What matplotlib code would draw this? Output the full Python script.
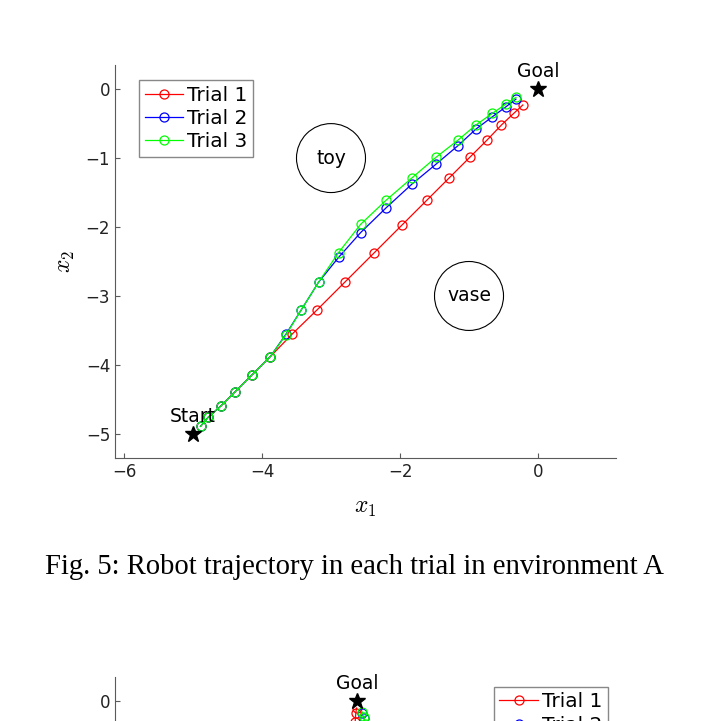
import matplotlib
matplotlib.use('Agg')
import matplotlib.pyplot as plt

# trajectory points (environment A)
red_x = [-4.89, -4.78, -4.59, -4.39, -4.15, -3.88, -3.56, -3.20, -2.80, -2.37, -1.97, -1.61, -1.29, -0.99, -0.74, -0.53, -0.35, -0.22]
red_y = [-4.89, -4.76, -4.59, -4.39, -4.15, -3.88, -3.55, -3.20, -2.80, -2.37, -1.97, -1.61, -1.29, -0.99, -0.74, -0.52, -0.35, -0.23]
blue_x = [-4.89, -4.78, -4.59, -4.39, -4.15, -3.88, -3.65, -3.43, -3.18, -2.89, -2.57, -2.20, -1.83, -1.48, -1.16, -0.90, -0.66, -0.47, -0.32]
blue_y = [-4.89, -4.76, -4.59, -4.39, -4.15, -3.88, -3.55, -3.20, -2.80, -2.44, -2.08, -1.72, -1.38, -1.09, -0.82, -0.58, -0.40, -0.26, -0.145]
green_x = [-4.89, -4.78, -4.59, -4.39, -4.15, -3.88, -3.65, -3.43, -3.18, -2.89, -2.57, -2.20, -1.83, -1.48, -1.16, -0.90, -0.66, -0.47, -0.32]
green_y = [-4.89, -4.76, -4.59, -4.39, -4.15, -3.88, -3.56, -3.20, -2.80, -2.37, -1.96, -1.61, -1.29, -0.99, -0.74, -0.52, -0.35, -0.22, -0.12]

start = (-5, -5)
goal = (0, 0)
obstacles = [(-3, -1, 'toy'), (-1, -3, 'vase')]
obstacle_r = 0.5

# second figure (only its top edge is visible)
b_red_x = [-0.01, -0.02, -0.03, -0.04]
b_red_y = [-0.10, -0.17, -0.30, -0.45]
b_blue_x = [0.07, 0.10, 0.12, 0.13]
b_blue_y = [-0.17, -0.25, -0.36, -0.50]
b_green_x = [0.07, 0.10, 0.11, 0.12]
b_green_y = [-0.155, -0.23, -0.33, -0.47]

plt.rcParams['font.family'] = 'DejaVu Sans'
plt.rcParams['mathtext.fontset'] = 'cm'

ax_col = '#5a5a5a'
tick_fs = 12
txt_fs = 13.5
leg_fs = 14.5


def style_axes(ax):
	ax.spines['top'].set_visible(False)
	ax.spines['right'].set_visible(False)
	for s in ['left', 'bottom']:
		ax.spines[s].set_color(ax_col)
		ax.spines[s].set_linewidth(0.8)
	ax.tick_params(direction='in', length=3.5, width=0.8, color=ax_col,
				labelsize=tick_fs, labelcolor='#222222')


def trials(ax, rx, ry, bx, by, gx, gy):
	kw = dict(marker='o', markersize=6.5, markerfacecolor='none', linewidth=0.9, markeredgewidth=0.9)
	ax.plot(rx, ry, color='#ff0000', label='Trial 1', **kw)
	ax.plot(bx, by, color='#0000ff', label='Trial 2', **kw)
	ax.plot(gx, gy, color='#00ff00', label='Trial 3', **kw)


def add_legend(ax, anchor):
	ax.legend(loc='upper left', bbox_to_anchor=anchor, borderaxespad=0,
			fontsize=leg_fs, handlelength=1.9, handletextpad=0.2, labelspacing=0.22,
			borderpad=0.28, fancybox=False, framealpha=1, edgecolor='#888888')


fig = plt.figure(figsize=(7.09, 7.21), dpi=100)

# ---------------- top figure
ax = fig.add_axes([115/709, 1-458/721, 501/709, 393/721])
trials(ax, red_x, red_y, blue_x, blue_y, green_x, green_y)
for (cx, cy, name) in obstacles:
	ax.add_patch(plt.Circle((cx, cy), obstacle_r, fill=False, color='black', linewidth=0.8))
	ax.text(cx, cy, name, ha='center', va='center', fontsize=txt_fs)
ax.plot(*start, marker='*', color='black', markersize=12, linestyle='none')
ax.plot(*goal, marker='*', color='black', markersize=12, linestyle='none')
ax.annotate('Start', start, xytext=(0, 6), textcoords='offset points', ha='center', va='bottom', fontsize=txt_fs)
ax.annotate('Goal', goal, xytext=(0, 6), textcoords='offset points', ha='center', va='bottom', fontsize=txt_fs)
ax.set_xlim(-6.13, 1.13)
ax.set_ylim(-5.35, 0.35)
ax.set_xticks([-6, -4, -2, 0])
ax.set_yticks([0, -1, -2, -3, -4, -5])
style_axes(ax)
ax.set_xlabel('$x_1$', fontsize=17, labelpad=10)
ax.set_ylabel('$x_2$', fontsize=17, labelpad=6)
add_legend(ax, (0.048, 0.962))

fig.text(354/709, 1-567/721, 'Fig. 5: Robot trajectory in each trial in environment A',
		family='Liberation Serif', fontsize=20.6, ha='center', va='center')

# ---------------- bottom figure (cut off by page)
ax2 = fig.add_axes([115/709, 1-1070/721, 501/709, 393/721])
trials(ax2, b_red_x, b_red_y, b_blue_x, b_blue_y, b_green_x, b_green_y)
ax2.plot(*goal, marker='*', color='black', markersize=12, linestyle='none')
ax2.annotate('Goal', goal, xytext=(0, 6), textcoords='offset points', ha='center', va='bottom', fontsize=txt_fs)
ax2.set_xlim(-3.51, 3.75)
ax2.set_ylim(-5.35, 0.35)
ax2.set_xticks([])
ax2.set_yticks([0])
style_axes(ax2)
add_legend(ax2, (0.756, 0.975))

fig.savefig('out.png', dpi=100)
